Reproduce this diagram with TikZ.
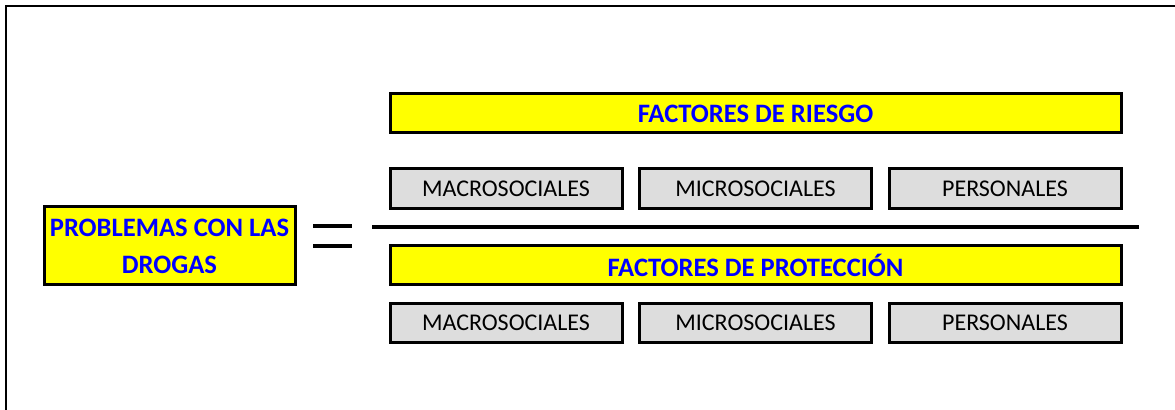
\documentclass[tikz,border=0pt]{standalone}
\usepackage{fontspec}
\setmainfont{Carlito}
\definecolor{boxyellow}{HTML}{FFFF00}
\definecolor{boxgray}{HTML}{DDDDDD}
\definecolor{txtblue}{HTML}{0000FF}
\tikzset{
  titlebox/.style={draw=black, line width=1.5pt, fill=boxyellow, inner sep=0pt,
    text=txtblue, font=\bfseries\fontsize{13.3}{18.5}\selectfont, align=center},
  catbox/.style={draw=black, line width=1.5pt, fill=boxgray, inner sep=0pt,
    minimum width=116pt, minimum height=19.75pt, font=\fontsize{12}{14}\selectfont},
  rule/.style={line width=2pt}
}
\begin{document}
\begin{tikzpicture}[x=0.5pt,y=-0.5pt]
\useasboundingbox (0,0) rectangle (1175,410);
% outer frame (cut by the page on the right and bottom)
\draw[line width=1pt] (6,410) -- (6,6) -- (1175,6);
% left term
\node[titlebox, minimum width=125.5pt, minimum height=39pt] (prob) at (169.5,246)
  {PROBLEMAS CON LAS\\DROGAS};
% equals sign
\coordinate (eqA1) at (313,226); \coordinate (eqA2) at (352,226);
\coordinate (eqB1) at (313,246); \coordinate (eqB2) at (352,246);
\draw[rule] (eqA1) -- (eqA2);
\draw[rule] (eqB1) -- (eqB2);
% fraction bar
\coordinate (fracL) at (372,227); \coordinate (fracR) at (1139,227);
\draw[rule] (fracL) -- (fracR);
% numerator
\node[titlebox, minimum width=365.5pt, minimum height=19.5pt] (riesgo) at (755.5,113.5)
  {FACTORES DE RIESGO};
\node[catbox] (rmacro) at (506,188.5) {MACROSOCIALES};
\node[catbox] (rmicro) at (755.5,188.5) {MICROSOCIALES};
\node[catbox] (rpers) at (1005,188.5) {PERSONALES};
% denominator
\node[titlebox, minimum width=365.5pt, minimum height=19.5pt] (prot) at (755.5,265.5)
  {FACTORES DE PROTECCIÓN};
\node[catbox] (pmacro) at (506,323) {MACROSOCIALES};
\node[catbox] (pmicro) at (755.5,323) {MICROSOCIALES};
\node[catbox] (ppers) at (1005,323) {PERSONALES};
\end{tikzpicture}
\end{document}
